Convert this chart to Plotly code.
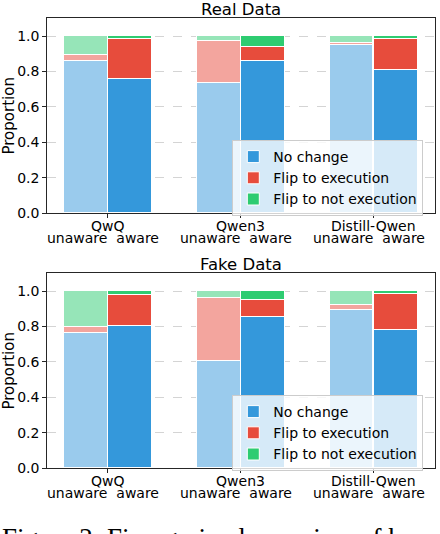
import plotly.graph_objects as go

# ---- data ----
models = ["QwQ", "Qwen3", "Distill-Qwen"]
categories = ["No change", "Flip to execution", "Flip to not execution"]
sub_label = "unaware\u00a0\u00a0aware"

real_unaware = {
    "No change": [0.859, 0.733, 0.947],
    "Flip to execution": [0.032, 0.239, 0.013],
    "Flip to not execution": [0.109, 0.028, 0.040],
}
real_aware = {
    "No change": [0.757, 0.859, 0.804],
    "Flip to execution": [0.222, 0.079, 0.175],
    "Flip to not execution": [0.021, 0.062, 0.021],
}
fake_unaware = {
    "No change": [0.763, 0.602, 0.891],
    "Flip to execution": [0.034, 0.357, 0.026],
    "Flip to not execution": [0.203, 0.041, 0.083],
}
fake_aware = {
    "No change": [0.803, 0.850, 0.776],
    "Flip to execution": [0.171, 0.099, 0.207],
    "Flip to not execution": [0.026, 0.051, 0.017],
}
titles = ["Real Data", "Fake Data"]
y_ticks = [0.0, 0.2, 0.4, 0.6, 0.8, 1.0]

colors_full = {"No change": "#3498db", "Flip to execution": "#e74c3c",
               "Flip to not execution": "#2ecc71"}
colors_light = {"No change": "#9acbed", "Flip to execution": "#f3a59e",
                "Flip to not execution": "#96e5b8"}

FONT = "DejaVu Sans"
W, H = 440, 534
bar_w = 0.33
off = 0.167


def fx(px):  # pixel x -> paper fraction
    return px / W


def fy(py):  # pixel y -> paper fraction
    return 1 - py / H


xpos = list(range(len(models)))

fig = go.Figure()

panels = [(real_unaware, real_aware), (fake_unaware, fake_aware)]
px_left, px_right = 46.7, 435.0
plot_tops = [18.3, 273.3]
plot_bottoms = [213.3, 468.3]
legend_tops = [140, 395]

for p, (unaware, aware) in enumerate(panels):
    xa = "x" if p == 0 else "x2"
    ya = "y" if p == 0 else "y2"
    lg = "legend" if p == 0 else "legend2"
    for cat in categories:
        fig.add_trace(go.Bar(
            x=[i - off for i in xpos], y=unaware[cat], width=bar_w,
            marker=dict(color=colors_light[cat], line=dict(color="white", width=1)),
            name=cat, showlegend=False, xaxis=xa, yaxis=ya, legend=lg,
        ))
    for cat in categories:
        fig.add_trace(go.Bar(
            x=[i + off for i in xpos], y=aware[cat], width=bar_w,
            marker=dict(color=colors_full[cat], line=dict(color="white", width=1)),
            name=cat, showlegend=True, xaxis=xa, yaxis=ya, legend=lg,
        ))

axis_common = dict(showline=True, linecolor="#262626", linewidth=1, mirror=True,
                   ticks="outside", ticklen=3.5, tickcolor="#262626", automargin=False,
                   tickfont=dict(family=FONT, size=14, color="black"))

xdom = [fx(px_left), fx(px_right)]
for p in range(2):
    ydom = [fy(plot_bottoms[p]), fy(plot_tops[p])]
    xkey = "xaxis" if p == 0 else "xaxis2"
    ykey = "yaxis" if p == 0 else "yaxis2"
    fig.layout[xkey] = dict(domain=xdom, range=[-0.46, 2.465], tickvals=xpos,
                            ticktext=models, showgrid=False, zeroline=False,
                            ticklabelstandoff=-4,
                            anchor="y" if p == 0 else "y2", **axis_common)
    fig.layout[ykey] = dict(domain=ydom, range=[0, 1.1], tickvals=y_ticks,
                            tickformat=".1f", showgrid=True, gridcolor="#d4d4d4",
                            griddash="dash", gridwidth=0.8, zeroline=False,
                            anchor="x" if p == 0 else "x2",
                            title=dict(text="Proportion", standoff=3,
                                       font=dict(family=FONT, size=15, color="black")),
                            **axis_common)
    fig.add_annotation(text=titles[p], xref="paper", yref="paper",
                       x=fx((px_left + px_right) / 2), y=fy(plot_tops[p] - 8.5),
                       xanchor="center", yanchor="middle", showarrow=False,
                       font=dict(family=FONT, size=16.5, color="black"))
    for i in xpos:
        fig.add_annotation(text=sub_label, xref="x" if p == 0 else "x2", yref="paper",
                           x=i - 0.035, y=fy(plot_bottoms[p] + 24.5),
                           xanchor="center", yanchor="middle", showarrow=False,
                           font=dict(family=FONT, size=14, color="black"))

legend_common = dict(bgcolor="rgba(255,255,255,0.8)", bordercolor="#cccccc",
                     borderwidth=1, traceorder="normal", xanchor="left", yanchor="top",
                     font=dict(family=FONT, size=14, color="black"), itemwidth=30)
fig.update_layout(
    legend=dict(x=fx(232.3), y=fy(legend_tops[0]), **legend_common),
    legend2=dict(x=fx(232.3), y=fy(legend_tops[1]), **legend_common),
)

fig.add_annotation(text="Figure 2: Fine-grained overview of how", xref="paper", yref="paper",
                   x=fx(0), y=fy(521), xanchor="left", yanchor="top", showarrow=False,
                   font=dict(family="Liberation Serif", size=27, color="black"))

fig.update_layout(width=W, height=H, margin=dict(l=0, r=0, t=0, b=0, autoexpand=False),
                  barmode="stack", bargap=0, plot_bgcolor="white", paper_bgcolor="white",
                  font=dict(family=FONT, color="black"))

fig.write_html("out.html", config={"displayModeBar": False},
               post_script="document.body.style.margin='0px';"
                           "document.body.style.overflow='hidden';")
